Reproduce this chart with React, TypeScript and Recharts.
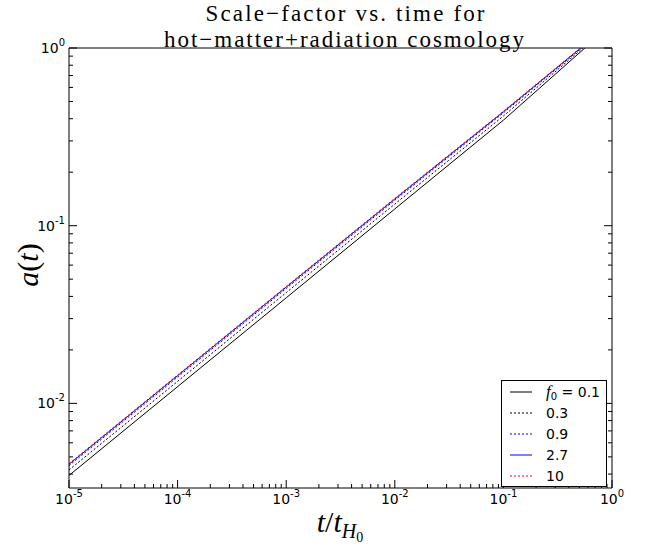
import React from "react";
import { LineChart, Line, XAxis, YAxis, Legend } from "recharts";

// sample times t/t_H0 (one per decade) and a(t) for each f0, plus the time a reaches 1
const tDecades = [1e-5, 1e-4, 1e-3, 1e-2, 1e-1];
const f0Labels = ["0.1", "0.3", "0.9", "2.7", "10"];
const aF0_01 = [0.00393, 0.01242, 0.03926, 0.1242, 0.3926];
const aF0_03 = [0.00422, 0.0133, 0.042, 0.1324, 0.414];
const aF0_09 = [0.00446, 0.01406, 0.0443, 0.139, 0.4315];
const aF0_27 = [0.00454, 0.01432, 0.0451, 0.1413, 0.4375];
const aF0_10 = [0.00458, 0.01445, 0.0455, 0.1426, 0.4406];
const tToday = [0.563, 0.54, 0.525, 0.515, 0.51];

const xMajor = [1e-5, 1e-4, 1e-3, 1e-2, 1e-1, 1];
const yMajor = [1e-2, 1e-1, 1];
const Y_MIN = 0.00334;

const seriesStyle = [
  { color: "#000000", dash: undefined },
  { color: "#000000", dash: "2 2" },
  { color: "#0000ff", dash: "2 2" },
  { color: "#0000ff", dash: undefined },
  { color: "#ff0000", dash: "2 2" },
];

const allSeries = [aF0_01, aF0_03, aF0_09, aF0_27, aF0_10].map((vals, i) =>
  tDecades.map((t, j) => ({ t, a: vals[j] })).concat({ t: tToday[i], a: 1 })
);

function logTicks(lo: number, hi: number) {
  const out: number[] = [];
  for (let e = Math.floor(Math.log10(lo)); e <= Math.ceil(Math.log10(hi)); e++) {
    for (let m = 1; m < 10; m++) {
      const v = m * Math.pow(10, e);
      if (v >= lo * 0.9999 && v <= hi * 1.0001) out.push(v);
    }
  }
  return out;
}

const xTicks = logTicks(xMajor[0], xMajor[xMajor.length - 1]);
const yTicks = logTicks(Y_MIN, yMajor[yMajor.length - 1]);

const isMajor = (v: number) => {
  const l = Math.log10(v);
  return Math.abs(l - Math.round(l)) < 1e-9;
};

const tickFont = "'DejaVu Sans', sans-serif";
const serif = "'Liberation Serif', 'Times New Roman', Times, serif";

function Pow10({ x, y, anchor, v }: any) {
  const exp = Math.round(Math.log10(v));
  return (
    <text x={x} y={y} textAnchor={anchor} fontFamily={tickFont} fontSize={14} fill="#000">
      10
      <tspan dy={-7} fontSize={10}>
        {exp === 0 ? "0" : `-${Math.abs(exp)}`}
      </tspan>
    </text>
  );
}

function XTick(props: any) {
  const { x, y, payload, side } = props;
  const major = isMajor(payload.value);
  const len = major ? 8 : 4;
  const dir = side === "top" ? 1 : -1;
  return (
    <g>
      <line x1={x} y1={y} x2={x} y2={y + dir * len} stroke="#000" strokeWidth={1} />
      {side !== "top" && major && <Pow10 x={x} y={y + 16} anchor="middle" v={payload.value} />}
    </g>
  );
}

function YTick(props: any) {
  const { x, y, payload, side } = props;
  const major = isMajor(payload.value);
  const len = major ? 8 : 4;
  const dir = side === "right" ? -1 : 1;
  return (
    <g>
      <line x1={x} y1={y} x2={x + dir * len} y2={y} stroke="#000" strokeWidth={1} />
      {side !== "right" && major && <Pow10 x={x - 4} y={y + 5} anchor="end" v={payload.value} />}
    </g>
  );
}

function LegendBox() {
  return (
    <div
      style={{
        width: 104,
        border: "1px solid #000",
        background: "#fff",
        fontFamily: tickFont,
        fontSize: 14,
        color: "#000",
      }}
    >
      {f0Labels.map((lab, i) => (
        <div key={lab} style={{ height: 21, display: "flex", alignItems: "center" }}>
          <svg width={22} height={4} style={{ marginLeft: 8 }}>
            <line
              x1={0}
              y1={2}
              x2={22}
              y2={2}
              stroke={seriesStyle[i].color}
              strokeWidth={1}
              strokeDasharray={seriesStyle[i].dash}
            />
          </svg>
          <span style={{ marginLeft: 14, whiteSpace: "nowrap" }}>
            {i === 0 && (
              <>
                <span style={{ fontFamily: serif, fontStyle: "italic", fontSize: 17 }}>f</span>
                <span style={{ fontSize: 10, position: "relative", top: 3 }}>0</span> ={" "}
              </>
            )}
            {lab}
          </span>
        </div>
      ))}
    </div>
  );
}

export default function App() {
  return (
    <div style={{ position: "absolute", left: 0, top: 0, width: 648, height: 548, background: "#fff" }}>
      <LineChart width={648} height={548} margin={{ top: 47, right: 35, bottom: 59, left: 68 }}>
        <XAxis
          dataKey="t"
          type="number"
          scale="log"
          domain={[1e-5, 1]}
          allowDataOverflow
          ticks={xTicks}
          interval={0}
          height={1}
          tickSize={0}
          tickMargin={0}
          axisLine={{ stroke: "#000" }}
          tick={(p: any) => <XTick {...p} side="bottom" />}
        />
        <XAxis
          xAxisId="top"
          orientation="top"
          type="number"
          scale="log"
          domain={[1e-5, 1]}
          allowDataOverflow
          ticks={xTicks}
          interval={0}
          height={1}
          tickSize={0}
          tickMargin={0}
          axisLine={{ stroke: "#000" }}
          tick={(p: any) => <XTick {...p} side="top" />}
        />
        <YAxis
          type="number"
          scale="log"
          domain={[Y_MIN, 1]}
          allowDataOverflow
          ticks={yTicks}
          interval={0}
          width={1}
          tickSize={0}
          tickMargin={0}
          axisLine={{ stroke: "#000" }}
          tick={(p: any) => <YTick {...p} side="left" />}
        />
        <YAxis
          yAxisId="right"
          orientation="right"
          type="number"
          scale="log"
          domain={[Y_MIN, 1]}
          allowDataOverflow
          ticks={yTicks}
          interval={0}
          width={1}
          tickSize={0}
          tickMargin={0}
          axisLine={{ stroke: "#000" }}
          tick={(p: any) => <YTick {...p} side="right" />}
        />
        {allSeries.map((data, i) => (
          <Line
            key={f0Labels[i]}
            data={data}
            dataKey="a"
            name={f0Labels[i]}
            type="linear"
            stroke={seriesStyle[i].color}
            strokeWidth={1}
            strokeDasharray={seriesStyle[i].dash}
            dot={false}
            isAnimationActive={false}
          />
        ))}
        <Legend
          layout="vertical"
          align="center"
          verticalAlign="middle"
          wrapperStyle={{ left: 501, top: 380, width: 106 }}
          content={() => <LegendBox />}
        />
      </LineChart>
      <svg
        width={648}
        height={548}
        style={{ position: "absolute", left: 0, top: 0, pointerEvents: "none" }}
      >
        <text x={345} y={21} textAnchor="middle" fontFamily={serif} fontSize={23} fill="#000" textLength={279} lengthAdjust="spacing">
          Scale−factor vs. time for
        </text>
        <text x={344} y={47} textAnchor="middle" fontFamily={serif} fontSize={23} fill="#000" textLength={360} lengthAdjust="spacing">
          hot−matter+radiation cosmology
        </text>
        <text transform="translate(38 265) rotate(-90)" textAnchor="middle" fontFamily={serif} fontSize={30} fill="#000">
          <tspan fontStyle="italic">a</tspan>(<tspan fontStyle="italic">t</tspan>)
        </text>
        <text x={340} y={532} textAnchor="middle" fontFamily={serif} fontSize={30} fill="#000">
          <tspan fontStyle="italic">t</tspan>/<tspan fontStyle="italic">t</tspan>
          <tspan fontStyle="italic" dy={6} fontSize={20}>H</tspan>
          <tspan dy={4} fontSize={14}>0</tspan>
        </text>
      </svg>
    </div>
  );
}
